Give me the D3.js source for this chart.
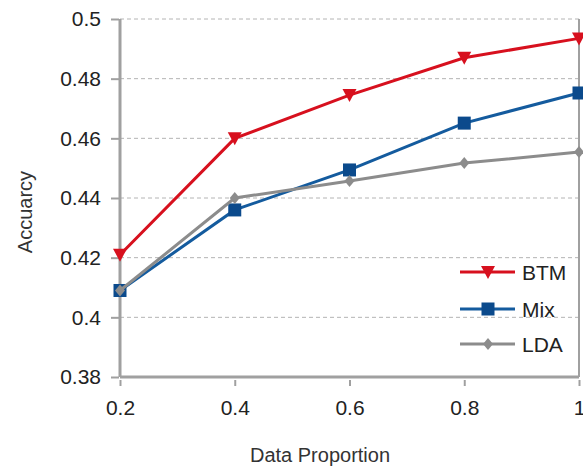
<!DOCTYPE html>
<html>
<head>
<meta charset="utf-8">
<script src="https://cdn.jsdelivr.net/npm/d3@7"></script>
<style>
  body { margin: 0; background: #fff; }
  text { font-family: "Liberation Sans", Arial, sans-serif; }
</style>
</head>
<body>
<div id="chart"></div>
<script>
// data
var proportions = [0.2, 0.4, 0.6, 0.8, 1];
var btm = [0.421, 0.460, 0.4745, 0.487, 0.4935];
var mix = [0.409, 0.436, 0.4494, 0.4651, 0.4752];
var lda = [0.409, 0.440, 0.4457, 0.4517, 0.4554];
var xTicks = [0.2, 0.4, 0.6, 0.8, 1];
var yTicks = [0.38, 0.4, 0.42, 0.44, 0.46, 0.48, 0.5];

var series = [
  {name: "BTM", values: btm, color: "#d7101e", symbol: "tri"},
  {name: "Mix", values: mix, color: "#145b9e", symbol: "square"},
  {name: "LDA", values: lda, color: "#8c8c8c", symbol: "diamond"}
];

var W = 583, H = 468;
var margin = {top: 19, right: 4, bottom: 91, left: 120};
var width = W - margin.left - margin.right,
    height = H - margin.top - margin.bottom;

var svg = d3.select("#chart").append("svg")
    .attr("width", W)
    .attr("height", H);
var g = svg.append("g")
    .attr("transform", "translate(" + margin.left + "," + margin.top + ")");

var x = d3.scaleLinear().domain([0.2, 1]).range([0, width]);
var y = d3.scaleLinear().domain([0.38, 0.5]).range([height, 0]);

// grid lines
g.selectAll(".grid")
  .data(yTicks.filter(function(d) { return d > 0.38; }))
  .enter().append("line")
    .attr("x1", 0).attr("x2", width)
    .attr("y1", function(d) { return y(d); })
    .attr("y2", function(d) { return y(d); })
    .attr("stroke", "#b4b4b4")
    .attr("stroke-width", 1)
    .attr("stroke-dasharray", "4,3");

// right frame
g.append("line")
  .attr("x1", width).attr("x2", width)
  .attr("y1", 0).attr("y2", height)
  .attr("stroke", "#a0a0a0").attr("stroke-width", 2);

// axes
var yAxis = g.append("g")
  .call(d3.axisLeft(y).tickValues(yTicks).tickSize(9).tickPadding(10)
    .tickFormat(function(d) { return d3.format("")(+d.toFixed(2)); }));
var xAxis = g.append("g")
  .attr("transform", "translate(0," + height + ")")
  .call(d3.axisBottom(x).tickValues(xTicks).tickSize(9).tickPadding(14)
    .tickFormat(function(d) { return d3.format("")(+d.toFixed(1)); }));

[xAxis, yAxis].forEach(function(a) {
  a.attr("font-size", null);
  a.select(".domain").attr("stroke", "#a0a0a0").attr("stroke-width", 3);
  a.selectAll(".tick line").attr("stroke", "#a0a0a0").attr("stroke-width", 2);
  a.selectAll(".tick text").attr("fill", "#222").attr("font-size", 21);
});
xAxis.select(".domain").attr("d", "M0,0H" + width);
xAxis.selectAll(".tick line").attr("y1", 3);
yAxis.select(".domain").attr("d", "M0," + height + "V0");
yAxis.selectAll(".tick line").attr("x1", -1);

// axis titles
svg.append("text")
  .attr("x", 320)
  .attr("y", 462)
  .attr("text-anchor", "middle")
  .attr("fill", "#333")
  .attr("font-size", 20)
  .text("Data Proportion");
svg.append("text")
  .attr("transform", "translate(32,212) rotate(-90)")
  .attr("text-anchor", "middle")
  .attr("fill", "#333")
  .attr("font-size", 20)
  .text("Accuarcy");

function marker(sel, s) {
  if (s.symbol === "tri") {
    sel.append("path").attr("d", "M-7,-6L7,-6L0,7Z").attr("fill", s.color);
  } else if (s.symbol === "square") {
    sel.append("rect").attr("x", -6.5).attr("y", -6.5)
      .attr("width", 13).attr("height", 13).attr("fill", "#0b4a8c");
  } else {
    sel.append("path").attr("d", "M0,-6L5,0L0,6L-5,0Z").attr("fill", s.color);
  }
}

var line = d3.line()
  .x(function(d, i) { return x(proportions[i]); })
  .y(function(d) { return y(d); });

series.forEach(function(s) {
  g.append("path")
    .datum(s.values)
    .attr("fill", "none")
    .attr("stroke", s.color)
    .attr("stroke-width", 3)
    .attr("d", line);
  s.values.forEach(function(v, i) {
    var m = g.append("g")
      .attr("transform", "translate(" + x(proportions[i]) + "," + y(v) + ")");
    marker(m, s);
  });
});

// legend
var legend = svg.append("g");
var legendY = [272, 309, 344];
series.forEach(function(s, i) {
  var row = legend.append("g").attr("transform", "translate(488," + legendY[i] + ")");
  row.append("line").attr("x1", -28).attr("x2", 27)
    .attr("stroke", s.color).attr("stroke-width", 3);
  marker(row, s);
  row.append("text")
    .attr("x", 34).attr("y", 8)
    .attr("fill", "#222")
    .attr("font-size", 21)
    .text(s.name);
});
</script>
</body>
</html>
